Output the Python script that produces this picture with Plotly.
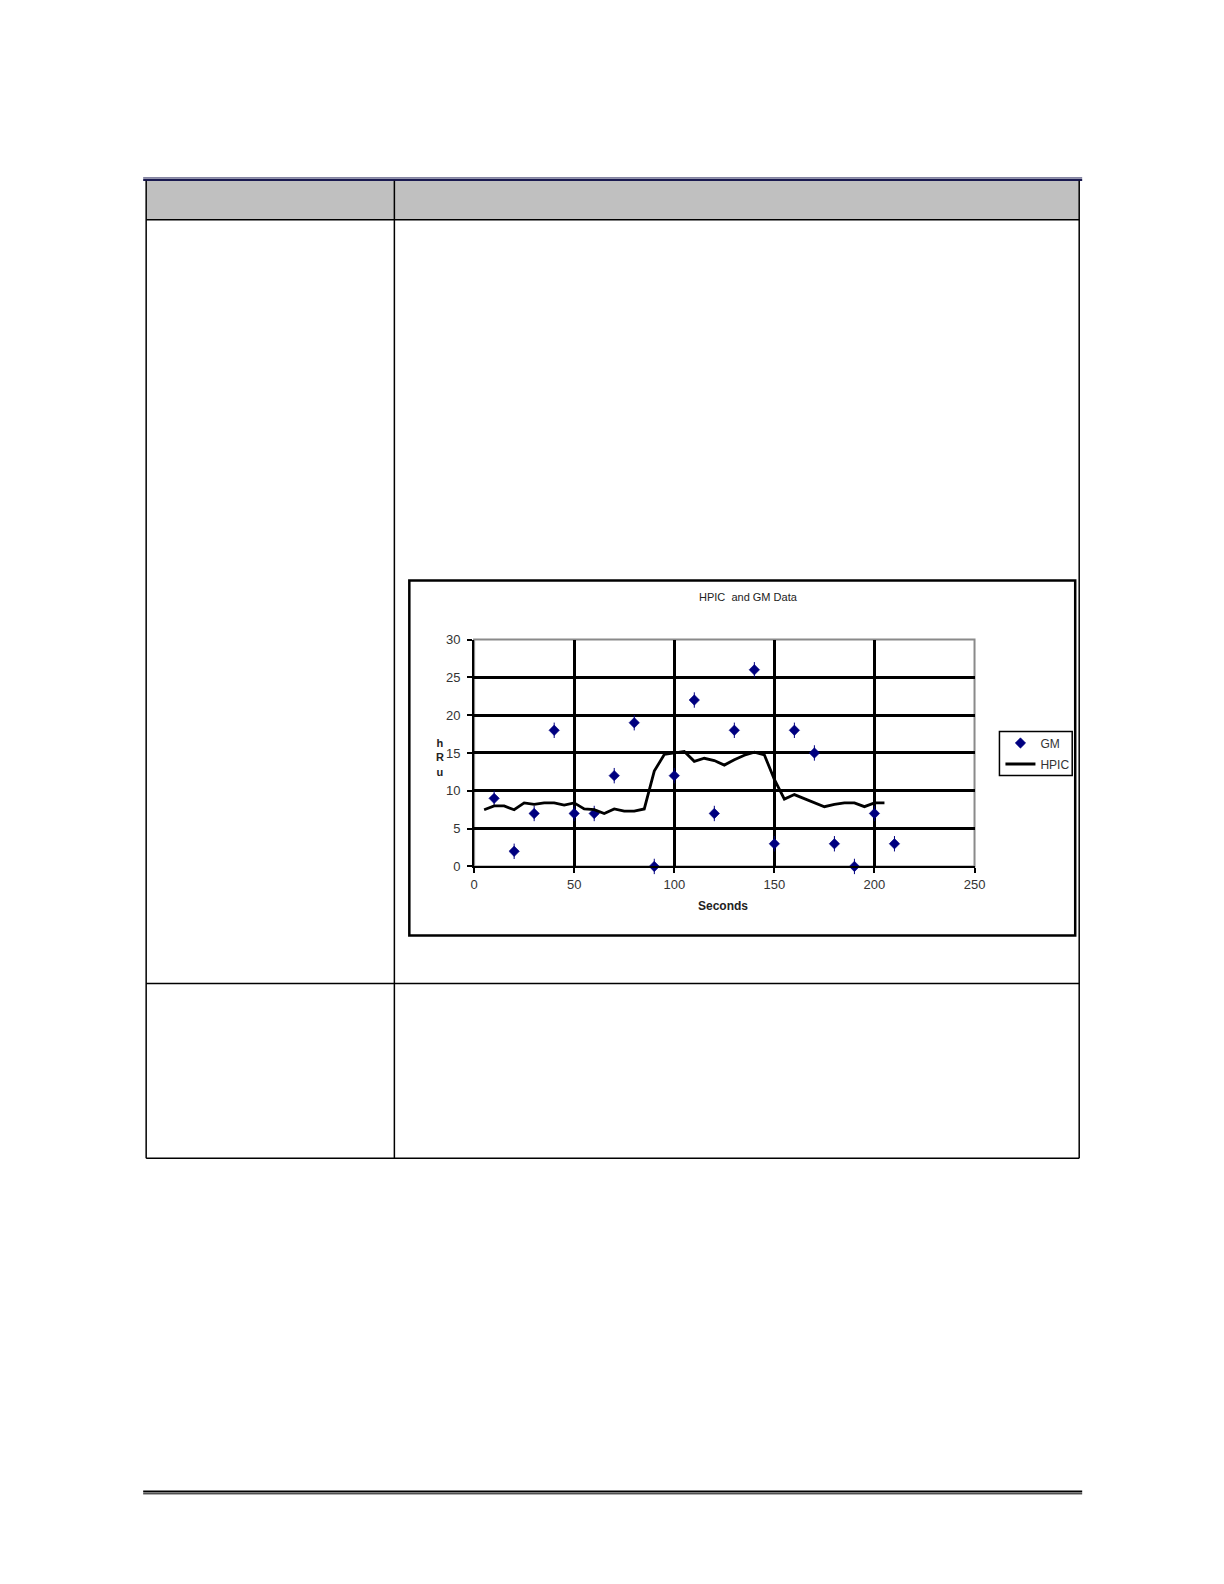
import plotly.graph_objects as go

# GM readings (every 10 s)
gm_seconds = [10, 20, 30, 40, 50, 60, 70, 80, 90, 100, 110, 120, 130, 140, 150, 160, 170, 180, 190, 200, 210]
gm_values = [9, 2, 7, 18, 7, 7, 12, 19, 0, 12, 22, 7, 18, 26, 3, 18, 15, 3, 0, 7, 3]

# HPIC readings (every 5 s)
hpic_seconds = [5, 10, 15, 20, 25, 30, 35, 40, 45, 50, 55, 60, 65, 70, 75, 80, 85, 90, 95, 100,
                105, 110, 115, 120, 125, 130, 135, 140, 145, 150, 155, 160, 165, 170, 175, 180,
                185, 190, 195, 200, 205]
hpic_values = [7.5, 8.0, 8.0, 7.5, 8.4, 8.2, 8.4, 8.4, 8.1, 8.4, 7.6, 7.5, 7.0, 7.6, 7.3, 7.3,
               7.6, 12.6, 14.8, 15.0, 15.2, 13.9, 14.3, 14.0, 13.4, 14.1, 14.7, 15.1, 14.75, 11.5,
               8.9, 9.5, 9.0, 8.4, 7.9, 8.2, 8.4, 8.4, 7.9, 8.4, 8.4]

x_ticks = [0, 50, 100, 150, 200, 250]
y_ticks = [0, 5, 10, 15, 20, 25, 30]

W, H = 1224, 1584


# page pixel -> paper fraction (small correction for the page offset in the browser)
def px(x):
    return (1.0092 * x - 9.5) / W


def py(y):
    return 1 - (1.0092 * y - 15.4) / H


def hline(y, x0, x1, width, color="black"):
    return dict(type="line", xref="paper", yref="paper", x0=px(x0), x1=px(x1), y0=py(y), y1=py(y),
                line=dict(color=color, width=width))


def vline(x, y0, y1, width, color="black"):
    return dict(type="line", xref="paper", yref="paper", x0=px(x), x1=px(x), y0=py(y0), y1=py(y1),
                line=dict(color=color, width=width))


shapes = [
    # page header rule
    hline(178.3, 141, 1083, 1, "#1a1a50"),
    hline(180.3, 141, 1083, 2, "#1a1a50"),
    # table header fill
    dict(type="rect", xref="paper", yref="paper", x0=px(144), x1=px(1080), y0=py(181), y1=py(220),
         fillcolor="#c0c0c0", line=dict(width=0), layer="below"),
    # table borders
    vline(144, 181, 1159, 1.5),
    vline(1080, 181, 1159, 1.5),
    vline(393, 181, 1159, 1.5),
    hline(220, 144, 1080, 1.5),
    hline(984, 144, 1080, 1.5),
    hline(1159, 144, 1080, 1.5),
    # page footer rule
    hline(1492.3, 141, 1083, 2),
    hline(1494.6, 141, 1083, 1),
    # chart box
    dict(type="rect", xref="paper", yref="paper", x0=px(408), x1=px(1076), y0=py(581), y1=py(936),
         line=dict(color="black", width=2.5), fillcolor="rgba(0,0,0,0)"),
    # legend box
    dict(type="rect", xref="paper", yref="paper", x0=px(1000), x1=px(1073), y0=py(732), y1=py(776),
         line=dict(color="black", width=1.5), fillcolor="white", layer="below"),
    # plot area frame (grey top/right)
    dict(type="rect", xref="x domain", yref="y domain", x0=0, x1=1, y0=0, y1=1,
         line=dict(color="#8a8a8a", width=2), layer="below"),
]

fig = go.Figure()
# thin vertical spike through each GM marker
fig.add_trace(go.Scatter(
    x=gm_seconds, y=gm_values, mode="markers", showlegend=False, hoverinfo="skip",
    marker=dict(symbol="line-ns", size=11, line=dict(color="#000080", width=1)),
    cliponaxis=False,
))
fig.add_trace(go.Scatter(
    x=gm_seconds, y=gm_values, mode="markers", name="GM", legendgroup="gm",
    marker=dict(symbol="diamond", size=8, color="#000080",
                line=dict(color="#000080", width=0.6)),
    cliponaxis=False,
))
fig.add_trace(go.Scatter(
    x=hpic_seconds, y=hpic_values, mode="lines", name="HPIC", legendgroup="hpic",
    line=dict(color="black", width=2.8),
))

fig.update_layout(
    width=W, height=H,
    margin=dict(l=0, r=0, t=0, b=0),
    paper_bgcolor="white", plot_bgcolor="white",
    font=dict(family="Liberation Sans, Arial, sans-serif", size=12, color="#222222"),
    shapes=shapes,
    showlegend=True,
    legend=dict(x=px(1001), y=py(729), xanchor="left", yanchor="top",
                borderwidth=0, bgcolor="rgba(0,0,0,0)",
                font=dict(size=12, color="#333333"), itemwidth=30,
                tracegroupgap=2),
    annotations=[
        dict(text="HPIC  and GM Data", xref="paper", yref="paper", x=px(748), y=py(597),
             showarrow=False, font=dict(size=11, color="#222222")),
        dict(text="<b>Seconds</b>", xref="paper", yref="paper", x=px(723), y=py(907),
             showarrow=False, font=dict(size=12, color="#222222")),
        dict(text="<b>h<br>R<br>u</b>", xref="paper", yref="paper", x=px(439), y=py(758),
             showarrow=False, font=dict(size=11, color="#222222")),
    ],
)

fig.update_xaxes(
    domain=[px(473), px(975)], range=[0, 250], tickvals=x_ticks,
    showgrid=True, gridcolor="black", gridwidth=2.5,
    showline=True, linecolor="black", linewidth=2,
    ticks="outside", ticklen=5, tickwidth=2, tickcolor="black",
    tickfont=dict(size=13, color="#333333"),
    zeroline=False, fixedrange=True,
)
fig.update_yaxes(
    domain=[py(867), py(640)], range=[0, 30], tickvals=y_ticks,
    showgrid=True, gridcolor="black", gridwidth=2.5,
    showline=True, linecolor="black", linewidth=2,
    ticks="outside", ticklen=5, tickwidth=2, tickcolor="black",
    tickfont=dict(size=13, color="#333333"), ticklabelstandoff=4,
    zeroline=False, fixedrange=True,
)

fig.write_html("out.html")
